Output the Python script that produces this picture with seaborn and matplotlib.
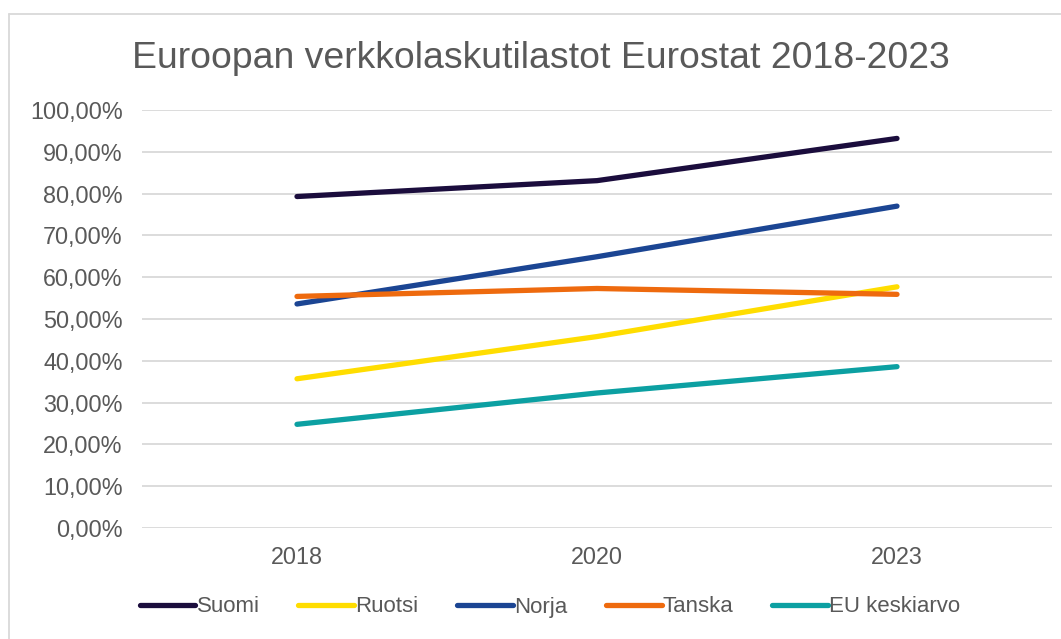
import pandas as pd
import seaborn as sns
import matplotlib.pyplot as plt
from matplotlib.lines import Line2D
from matplotlib.ticker import FuncFormatter

# Values (share of e-invoicing, %)
YEARS = ["2018", "2020", "2023"]
SUOMI = [79.3, 83.1, 93.2]
RUOTSI = [35.7, 45.8, 57.7]
NORJA = [53.6, 64.9, 77.0]
TANSKA = [55.4, 57.3, 55.9]
EU_KESKIARVO = [24.8, 32.3, 38.6]

SERIES = ["Suomi", "Ruotsi", "Norja", "Tanska", "EU keskiarvo"]
COLORS = ["#1b0d3d", "#ffdd00", "#1b4593", "#ee6a0e", "#0ca0a2"]

df = pd.DataFrame({
    "Vuosi": YEARS * 5,
    "Maa": [s for s in SERIES for _ in YEARS],
    "Osuus": SUOMI + RUOTSI + NORJA + TANSKA + EU_KESKIARVO,
})

sns.set_theme(style="white")
plt.rcParams["font.family"] = ["Liberation Sans", "DejaVu Sans"]

fig = plt.figure(figsize=(10.61, 6.39), dpi=100)
ax = fig.add_axes([142 / 1061, 1 - 528 / 639, 910 / 1061, 418 / 639])

sns.lineplot(data=df, x="Vuosi", y="Osuus", hue="Maa", hue_order=SERIES,
             palette=COLORS, linewidth=3.8, ax=ax, legend=False,
             solid_capstyle="round", sort=False)

# categories sit at 297, 600, 897 px
ax.set_xlim(-0.5 - 5 / 300, 2.5 + 5 / 300)
ax.set_ylim(0, 100)
ax.set_yticks(range(0, 101, 10))
ax.yaxis.set_major_formatter(FuncFormatter(lambda v, p: f"{v:.2f}%".replace(".", ",")))
ax.grid(axis="y", color="#d9d9d9", linewidth=1.3)
ax.set_axisbelow(True)
for s in ax.spines.values():
    s.set_visible(False)
ax.tick_params(axis="both", length=0, labelsize=16.8, labelcolor="#595959")
ax.tick_params(axis="y", pad=14)
ax.tick_params(axis="x", pad=13)
ax.set_xlabel("")
ax.set_ylabel("")

fig.text(541 / 1061, 1 - 58 / 639, "Euroopan verkkolaskutilastot Eurostat 2018-2023",
         ha="center", va="center", fontsize=26.9, color="#595959")

handles = [Line2D([0], [0], color=c, linewidth=3.8, solid_capstyle="round") for c in COLORS]
fig.legend(handles, SERIES, loc="center", bbox_to_anchor=(550 / 1061, 1 - 607 / 639),
           ncol=5, frameon=False, fontsize=16, labelcolor="#595959",
           handlelength=2.5, handletextpad=0.05, columnspacing=1.75)

# light frame like the exported chart area
fig.add_artist(Line2D([8.5 / 1061, 8.5 / 1061], [0, 1 - 13.5 / 639],
                      transform=fig.transFigure, color="#d9d9d9", linewidth=1.3))
fig.add_artist(Line2D([8.5 / 1061, 1], [1 - 13.5 / 639, 1 - 13.5 / 639],
                      transform=fig.transFigure, color="#d9d9d9", linewidth=1.3))

fig.savefig("out.png", dpi=100)
